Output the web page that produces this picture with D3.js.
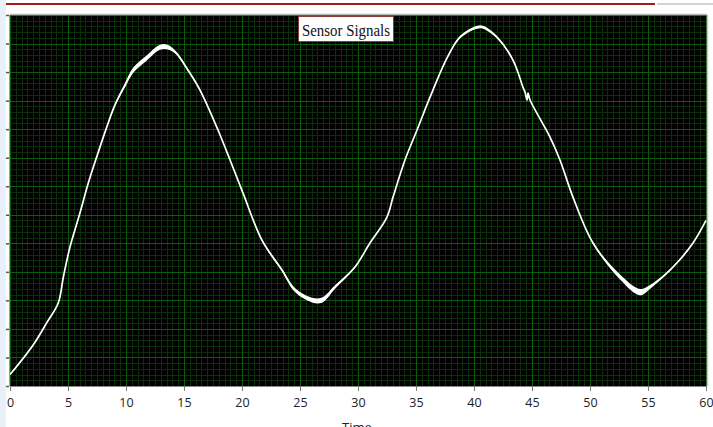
<!DOCTYPE html>
<html>
<head>
<meta charset="utf-8">
<script src="https://cdn.jsdelivr.net/npm/d3@7"></script>
<style>
  html, body { margin: 0; padding: 0; background: #ffffff; }
  svg { display: block; }
</style>
</head>
<body>
<svg id="chart" width="713" height="427"></svg>
<script>
// Sensor trace: sample times (s) and signal level (arbitrary units)
const time = [0, 2.0, 3.16, 4.16, 4.6, 5.17, 6.03, 6.75, 7.47, 8.34, 9.05, 9.91, 10.63, 11.78, 12.93, 13.62,
  14.3, 15.34, 16.38, 17.93, 18.97, 20.09, 21.72, 23.45, 24.57, 26.03, 26.9, 28.02, 29.74, 31.03,
  32.5, 33.02, 34.05, 35.09, 36.21, 37.67, 38.79, 40.26, 40.78, 41.98, 43.36, 44.22, 44.4, 44.57,
  44.66, 44.83, 46.55, 47.41, 48.53, 50.26, 52.59, 54.31, 55.17, 57.16, 58.88, 60];
const signal = [0.40, 1.44, 2.21, 2.91, 3.82, 4.87, 6.06, 7.11, 8.02, 9.07, 9.85, 10.54, 11.07, 11.49, 11.87, 11.87,
  11.68, 11.07, 10.37, 8.97, 7.92, 6.76, 5.11, 4.06, 3.36, 3.01, 3.01, 3.47, 4.17, 5.01,
  5.92, 6.62, 7.92, 8.97, 10.12, 11.49, 12.22, 12.57, 12.57, 12.22, 11.42, 10.47, 10.29, 10.02,
  10.26, 10.02, 8.72, 7.92, 6.62, 5.01, 3.82, 3.29, 3.47, 4.17, 5.01, 5.80];
// Half-width of the measurement noise around each sample (same units as signal)
const noise = [0.02, 0.02, 0.02, 0.02, 0.02, 0.02, 0.02, 0.02, 0.02, 0.03, 0.04, 0.07, 0.09, 0.09, 0.09, 0.08,
  0.05, 0.04, 0.03, 0.02, 0.02, 0.02, 0.03, 0.05, 0.07, 0.08, 0.09, 0.06, 0.03, 0.02,
  0.02, 0.02, 0.02, 0.02, 0.02, 0.03, 0.04, 0.05, 0.05, 0.04, 0.03, 0.02, 0.02, 0.02,
  0.02, 0.02, 0.02, 0.02, 0.02, 0.03, 0.09, 0.11, 0.07, 0.03, 0.02, 0.02];

const xTicks = [0, 5, 10, 15, 20, 25, 30, 35, 40, 45, 50, 55, 60];
const yTicks = [0, 1, 2, 3, 4, 5, 6, 7, 8, 9, 10, 11, 12, 13];
const chartTitle = "Sensor Signals";
const xTitle = "Time";

const svg = d3.select("#chart");
const L = 10, R = 706, T = 15, B = 386;

const x = d3.scaleLinear().domain([0, 60]).range([L, R]);
const y = d3.scaleLinear().domain([0, 13]).range([B, T]);

// page decorations
svg.append("rect").attr("x", 0).attr("y", 0).attr("width", 6).attr("height", 427).attr("fill", "#e9f0f9");
svg.append("line").attr("x1", 6).attr("x2", 655).attr("y1", 4).attr("y2", 4)
  .attr("stroke", "#9e1f1a").attr("stroke-width", 2);
svg.append("line").attr("x1", 657).attr("x2", 713).attr("y1", 4).attr("y2", 4)
  .attr("stroke", "#c4c4c4").attr("stroke-width", 1.5);

// plot background
svg.append("rect").attr("x", L).attr("y", T).attr("width", R - L + 1).attr("height", B - T)
  .attr("fill", "#000000");

const grid = svg.append("g").attr("shape-rendering", "crispEdges");
// minor grid
const xMinor = d3.range(0, 60.001, 0.5);
const yMinor = d3.range(0, 13.001, 0.2);
grid.selectAll(".xm").data(xMinor).join("line")
  .attr("x1", d => Math.round(x(d)) + 0.5).attr("x2", d => Math.round(x(d)) + 0.5)
  .attr("y1", T).attr("y2", B).attr("stroke", "#0a2e0a").attr("stroke-width", 1);
grid.selectAll(".ym").data(yMinor).join("line")
  .attr("y1", d => Math.round(y(d)) + 0.5).attr("y2", d => Math.round(y(d)) + 0.5)
  .attr("x1", L).attr("x2", R).attr("stroke", "#0a2e0a").attr("stroke-width", 1);
// major grid
grid.selectAll(".xM").data(xTicks).join("line")
  .attr("x1", d => Math.round(x(d)) + 0.5).attr("x2", d => Math.round(x(d)) + 0.5)
  .attr("y1", T).attr("y2", B).attr("stroke", "#0a5e0a").attr("stroke-width", 1);
grid.selectAll(".yM").data(yTicks).join("line")
  .attr("y1", d => Math.round(y(d)) + 0.5).attr("y2", d => Math.round(y(d)) + 0.5)
  .attr("x1", L).attr("x2", R).attr("stroke", "#0a5e0a").attr("stroke-width", 1);

// frame
svg.append("line").attr("x1", L).attr("x2", R + 1).attr("y1", T - 0.5).attr("y2", T - 0.5)
  .attr("stroke", "#b8b8b8").attr("stroke-width", 1.5);
svg.append("line").attr("x1", R + 1.5).attr("x2", R + 1.5).attr("y1", T).attr("y2", B)
  .attr("stroke", "#c8c8c8").attr("stroke-width", 1.5);
svg.append("line").attr("x1", L - 0.5).attr("x2", L - 0.5).attr("y1", T).attr("y2", B)
  .attr("stroke", "#9a9a9a").attr("stroke-width", 1);

// axes
const xAxis = d3.axisBottom(x).tickValues(xTicks).tickSize(5).tickPadding(7).tickFormat(d3.format("d"));
const gx = svg.append("g").attr("transform", `translate(0,${B})`).call(xAxis);
gx.select(".domain").attr("stroke", "#8a8a8a");
gx.selectAll(".tick line").attr("stroke", "#7a7a7a");
gx.selectAll(".tick text").attr("fill", "#222").style("font-family", "'Open Sans', sans-serif")
  .style("font-size", "12.5px");

const yAxis = d3.axisLeft(y).tickValues(yTicks).tickSize(3).tickFormat("");
const gy = svg.append("g").attr("transform", `translate(${L - 1},0)`).call(yAxis);
gy.select(".domain").remove();
gy.selectAll(".tick line").attr("stroke", "#555").attr("stroke-width", 1.5);

// axis title sits at the lower page edge
svg.append("text").attr("x", 357).attr("y", 432).attr("text-anchor", "middle")
  .style("font-family", "'Open Sans', sans-serif").style("font-size", "13px").attr("fill", "#222")
  .text(xTitle);

// signal trace
const pts = time.map((t, i) => ({ t, v: signal[i], n: noise[i] }));
const band = d3.area().x(d => x(d.t)).y0(d => y(d.v - d.n)).y1(d => y(d.v + d.n))
  .curve(d3.curveCatmullRom.alpha(0.5));
const line = d3.line().x(d => x(d.t)).y(d => y(d.v)).curve(d3.curveCatmullRom.alpha(0.5));
const clip = svg.append("clipPath").attr("id", "plotclip");
clip.append("rect").attr("x", L).attr("y", T).attr("width", R - L + 1).attr("height", B - T);
const trace = svg.append("g").attr("clip-path", "url(#plotclip)");
trace.append("path").datum(pts).attr("d", band).attr("fill", "#ffffff");
trace.append("path").datum(pts).attr("d", line).attr("fill", "none")
  .attr("stroke", "#ffffff").attr("stroke-width", 1.7);

// title box
const tg = svg.append("g");
tg.append("rect").attr("x", 298.5).attr("y", 16.5).attr("width", 95).attr("height", 25)
  .attr("fill", "#ffffff").attr("stroke", "#8c3a36").attr("stroke-width", 1);
tg.append("text").attr("x", 346).attr("y", 35.5).attr("text-anchor", "middle")
  .style("font-family", "'Liberation Serif', serif").style("font-size", "17px").attr("fill", "#111")
  .attr("textLength", 88).attr("lengthAdjust", "spacingAndGlyphs")
  .text(chartTitle);
</script>
</body>
</html>
